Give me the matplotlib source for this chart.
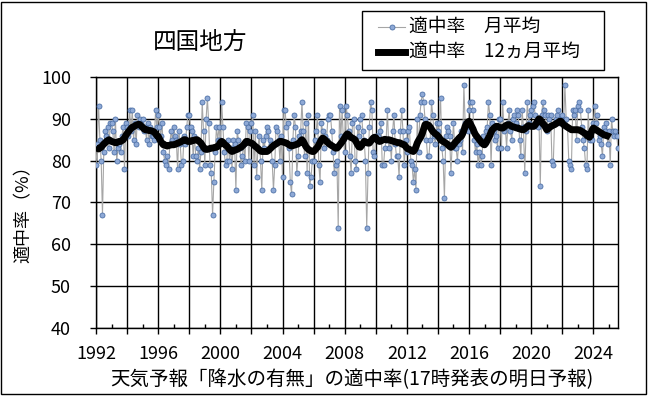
import numpy as np
import matplotlib
matplotlib.use("Agg")
import matplotlib.pyplot as plt
from matplotlib.lines import Line2D
from matplotlib.patches import Rectangle
from matplotlib.ticker import FixedLocator, FuncFormatter

plt.rcParams['font.family'] = ['Noto Sans CJK JP', 'DejaVu Sans']

title = "四国地方"
xlabel = "天気予報「降水の有無」の適中率(17時発表の明日予報)"
ylabel = "適中率（%）"
label_monthly = "適中率　月平均"
label_avg12 = "適中率　12ヵ月平均"
start_year = 1992

# monthly hit rate (%), Jan 1992 - Aug 2025, one row per year
monthly = [
    79, 84, 93, 85, 80, 67, 82, 87, 86, 88, 83, 89,   # 1992
    89, 87, 82, 90, 80, 83, 84, 82, 86, 88, 78, 89,   # 1993
    88, 86, 92, 87, 92, 85, 89, 84, 91, 88, 90, 89,   # 1994
    90, 87, 88, 85, 89, 84, 88, 86, 86, 85, 92, 88,   # 1995
    91, 88, 86, 89, 82, 80, 79, 81, 78, 84, 87, 85,   # 1996
    88, 86, 85, 78, 87, 84, 79, 80, 86, 84, 88, 91,   # 1997
    91, 88, 87, 81, 86, 81, 80, 83, 78, 82, 94, 87,   # 1998
    79, 90, 95, 89, 79, 77, 67, 75, 82, 88, 85, 88,   # 1999
    85, 94, 88, 82, 79, 80, 85, 80, 83, 78, 85, 84,   # 2000
    73, 87, 85, 83, 79, 81, 84, 80, 89, 88, 80, 87,   # 2001
    89, 91, 79, 87, 76, 83, 86, 80, 73, 85, 83, 86,   # 2002
    88, 87, 85, 84, 80, 73, 79, 88, 87, 85, 80, 86,   # 2003
    76, 92, 92, 88, 89, 83, 75, 72, 85, 91, 88, 77,   # 2004
    81, 86, 87, 94, 87, 81, 89, 77, 91, 74, 76, 80,   # 2005
    80, 85, 87, 91, 79, 75, 89, 87, 83, 86, 85, 90,   # 2006
    91, 91, 87, 82, 77, 79, 80, 64, 93, 86, 92, 85,   # 2007
    82, 93, 91, 87, 81, 77, 89, 90, 80, 78, 88, 86,   # 2008
    90, 91, 87, 85, 80, 64, 77, 88, 94, 92, 82, 81,   # 2009
    86, 86, 86, 87, 89, 79, 79, 83, 85, 92, 83, 85,   # 2010
    80, 87, 91, 84, 81, 81, 76, 87, 92, 87, 79, 85,   # 2011
    82, 87, 88, 80, 79, 75, 78, 73, 90, 82, 91, 94,   # 2012
    96, 94, 90, 85, 81, 81, 85, 94, 91, 86, 84, 89,   # 2013
    87, 89, 95, 83, 80, 71, 86, 88, 87, 86, 77, 84,   # 2014
    89, 83, 83, 80, 84, 85, 87, 82, 98, 89, 88, 87,   # 2015
    92, 94, 94, 92, 85, 82, 84, 79, 82, 79, 81, 86,   # 2016
    85, 87, 88, 94, 91, 79, 89, 87, 85, 86, 83, 90,   # 2017
    90, 83, 94, 87, 88, 83, 89, 92, 87, 85, 90, 91,   # 2018
    89, 92, 91, 85, 81, 92, 88, 77, 87, 94, 89, 91,   # 2019
    92, 93, 94, 91, 89, 88, 90, 74, 91, 94, 92, 91,   # 2020
    87, 91, 90, 91, 80, 79, 89, 90, 91, 92, 89, 90,   # 2021
    91, 89, 98, 90, 88, 80, 79, 78, 92, 91, 92, 85,   # 2022
    93, 94, 92, 88, 85, 83, 79, 78, 92, 85, 87, 85,   # 2023
    89, 93, 89, 91, 85, 86, 84, 81, 88, 87, 89, 84,   # 2024
    87, 79, 90, 87, 86, 87, 86, 83,                   # 2025
]

# 12-month average (%), centred, so it stops ~6 months before the last month
avg12 = [
    83.3, 83.0, 82.8, 83.0, 83.2, 83.6, 84.0, 84.2, 84.6, 84.8, 85.0, 84.8,   # 1992
    84.6, 84.5, 84.4, 84.3, 84.3, 84.5, 84.6, 84.6, 84.8, 85.0, 85.5, 86.0,   # 1993
    86.5, 86.9, 87.3, 87.7, 88.0, 88.1, 88.3, 88.5, 88.6, 88.7, 88.6, 88.2,   # 1994
    88.0, 87.6, 87.4, 87.4, 87.3, 87.2, 87.2, 87.1, 87.0, 86.8, 86.4, 86.0,   # 1995
    85.8, 85.2, 84.6, 84.2, 83.8, 83.8, 83.6, 83.5, 83.6, 83.7, 83.8, 83.8,   # 1996
    83.8, 83.9, 84.0, 84.2, 84.3, 84.4, 84.6, 84.8, 85.0, 85.0, 84.8, 84.6,   # 1997
    84.6, 84.6, 84.8, 84.8, 84.9, 85.0, 85.0, 84.8, 84.5, 84.2, 83.7, 83.2,   # 1998
    82.8, 82.7, 82.7, 82.8, 82.9, 83.0, 83.0, 83.1, 83.2, 83.2, 83.4, 83.8,   # 1999
    84.3, 84.6, 84.4, 84.0, 83.7, 83.5, 83.1, 82.7, 82.4, 82.2, 82.3, 82.5,   # 2000
    82.6, 82.7, 82.9, 83.1, 83.2, 83.5, 83.8, 84.2, 84.6, 84.6, 84.4, 84.3,   # 2001
    84.2, 84.0, 83.7, 83.4, 83.2, 82.9, 82.6, 82.3, 82.2, 82.2, 82.2, 82.2,   # 2002
    82.2, 82.4, 82.7, 83.0, 83.3, 83.6, 83.8, 84.0, 84.2, 84.4, 84.6, 84.6,   # 2003
    84.5, 84.4, 84.3, 84.2, 84.0, 83.8, 83.6, 83.5, 83.6, 83.7, 83.8, 83.9,   # 2004
    84.0, 84.3, 84.7, 85.0, 84.6, 84.0, 83.4, 83.0, 82.7, 82.5, 82.3, 82.2,   # 2005
    82.2, 82.5, 82.9, 83.2, 83.8, 84.4, 85.0, 85.4, 85.2, 84.9, 84.6, 84.3,   # 2006
    84.0, 83.8, 83.6, 83.4, 83.2, 83.0, 83.0, 83.3, 83.7, 84.1, 84.5, 85.0,   # 2007
    85.5, 86.0, 86.4, 86.2, 85.8, 85.5, 85.4, 85.2, 85.0, 84.4, 83.8, 83.3,   # 2008
    83.2, 83.6, 84.1, 84.6, 84.5, 84.3, 84.2, 84.2, 84.6, 85.0, 85.4, 85.6,   # 2009
    85.5, 85.0, 84.7, 84.6, 84.7, 84.9, 85.0, 85.1, 85.0, 85.0, 85.0, 84.9,   # 2010
    84.8, 84.7, 84.6, 84.5, 84.4, 84.3, 84.3, 84.2, 84.0, 83.9, 83.8, 83.4,   # 2011
    83.0, 82.8, 82.7, 82.5, 82.3, 82.2, 82.6, 83.3, 84.2, 84.8, 85.3, 85.8,   # 2012
    86.6, 87.6, 88.6, 88.7, 88.6, 88.4, 88.0, 87.5, 87.0, 86.7, 86.4, 86.2,   # 2013
    85.9, 85.5, 85.0, 84.8, 84.6, 84.4, 84.2, 84.0, 83.7, 83.4, 83.2, 83.4,   # 2014
    83.8, 84.2, 84.6, 84.9, 85.3, 85.6, 85.8, 86.4, 87.2, 88.2, 88.8, 89.2,   # 2015
    89.4, 88.8, 88.2, 87.6, 86.8, 86.2, 85.8, 85.4, 85.0, 84.6, 84.2, 83.9,   # 2016
    83.8, 84.2, 84.8, 85.4, 86.0, 86.8, 87.4, 87.7, 88.0, 88.2, 88.2, 88.0,   # 2017
    87.9, 87.8, 87.8, 88.0, 88.3, 88.5, 88.6, 88.6, 88.4, 88.2, 88.1, 88.0,   # 2018
    87.9, 87.8, 87.8, 87.6, 87.5, 87.4, 87.4, 87.6, 87.9, 88.2, 88.4, 88.3,   # 2019
    88.2, 88.2, 88.2, 88.5, 89.0, 89.5, 90.0, 89.8, 89.3, 88.8, 88.6, 88.0,   # 2020
    87.4, 87.6, 87.9, 88.2, 88.3, 88.5, 88.6, 88.8, 89.0, 89.2, 89.4, 89.4,   # 2021
    89.0, 88.6, 88.4, 88.2, 88.0, 87.8, 87.6, 87.4, 87.4, 87.4, 87.4, 87.4,   # 2022
    87.4, 87.3, 87.2, 87.0, 86.8, 86.6, 86.4, 86.0, 85.8, 85.6, 86.5, 87.3,   # 2023
    87.8, 87.6, 87.4, 87.2, 87.0, 86.8, 86.6, 86.4, 86.2, 86.1, 86.0, 85.9,   # 2024
    85.8, 85.6,                                                               # 2025
]

yticks = [40, 50, 60, 70, 80, 90, 100]
year_labels = [1992, 1996, 2000, 2004, 2008, 2012, 2016, 2020, 2024]


def main():
    W, H = 648, 396
    fig = plt.figure(figsize=(W / 100, H / 100), dpi=100)

    # plot area in pixels: x 96..618, y 77..328
    ax = fig.add_axes([96 / W, 1 - 328 / H, (618 - 96) / W, (328 - 77) / H])

    x = start_year + np.arange(len(monthly)) / 12.0
    ax.plot(x, monthly, color="#A6A6A6", lw=0.8, marker="o", markersize=3.6,
            markerfacecolor="#8EA9D6", markeredgecolor="#4F72A8",
            markeredgewidth=0.6, zorder=3)
    ax.plot(x[:len(avg12)], avg12, color="black", lw=5, solid_capstyle="butt",
            solid_joinstyle="round", zorder=4)

    ax.set_xlim(x[0], x[-1])
    ax.set_ylim(40, 100)
    ax.set_yticks(yticks)

    # gridlines / outward ticks every 2 years, labels every 4, inward minor ticks on odd years
    majors = list(range(start_year, 2025, 2))
    ax.xaxis.set_major_locator(FixedLocator(majors))
    ax.xaxis.set_major_formatter(FuncFormatter(
        lambda v, pos: str(int(round(v))) if int(round(v)) in year_labels else ""))
    ax.xaxis.set_minor_locator(FixedLocator(list(range(start_year + 1, 2026, 2))))

    ax.grid(True, which="major", color="black", lw=1.0)
    ax.tick_params(axis="x", which="major", direction="out", length=4.5, width=1,
                   pad=8, labelsize=13)
    ax.tick_params(axis="x", which="minor", direction="in", length=3, width=1)
    ax.tick_params(axis="y", which="major", direction="out", length=4, width=1,
                   pad=14, labelsize=13)
    for s in ax.spines.values():
        s.set_color("black")
        s.set_linewidth(1.0)

    fig.text(200 / W, 1 - 42 / H, title, fontsize=17, fontweight="normal",
             ha="center", va="center")
    fig.text(352 / W, 1 - 380 / H, xlabel, fontsize=14, ha="center", va="center")
    fig.text(24 / W, 1 - 210 / H, ylabel, fontsize=13, rotation=90,
             ha="center", va="center")

    # legend box
    fig.add_artist(Rectangle((362 / W, 1 - 70 / H), (604 - 362) / W, 59 / H,
                             transform=fig.transFigure, facecolor="white",
                             edgecolor="black", lw=1.0, zorder=5))
    rows = [(26.7, label_monthly), (51.7, label_avg12)]
    for i, (py, lab) in enumerate(rows):
        fy = 1 - py / H
        if i == 0:
            fig.add_artist(Line2D([378 / W, 405 / W], [fy, fy], transform=fig.transFigure,
                                  color="#A6A6A6", lw=0.8, zorder=6))
            fig.add_artist(Line2D([391.5 / W], [fy], transform=fig.transFigure,
                                  marker="o", markersize=3.6, markerfacecolor="#8EA9D6",
                                  markeredgecolor="#4F72A8", markeredgewidth=0.6,
                                  linestyle="none", zorder=7))
        else:
            fig.add_artist(Line2D([378 / W, 405 / W], [fy, fy], transform=fig.transFigure,
                                  color="black", lw=5, zorder=6))
        fig.text(409 / W, fy, lab, fontsize=13.5, ha="left", va="center", zorder=7)

    # outer frame of the chart
    fig.add_artist(Rectangle((1 / W, 2 / H), (W - 3) / W, (H - 4) / H,
                             transform=fig.transFigure, facecolor="none",
                             edgecolor="black", lw=1.0, zorder=8))

    fig.savefig("out.png", dpi=100)


if __name__ == '__main__':
    main()
